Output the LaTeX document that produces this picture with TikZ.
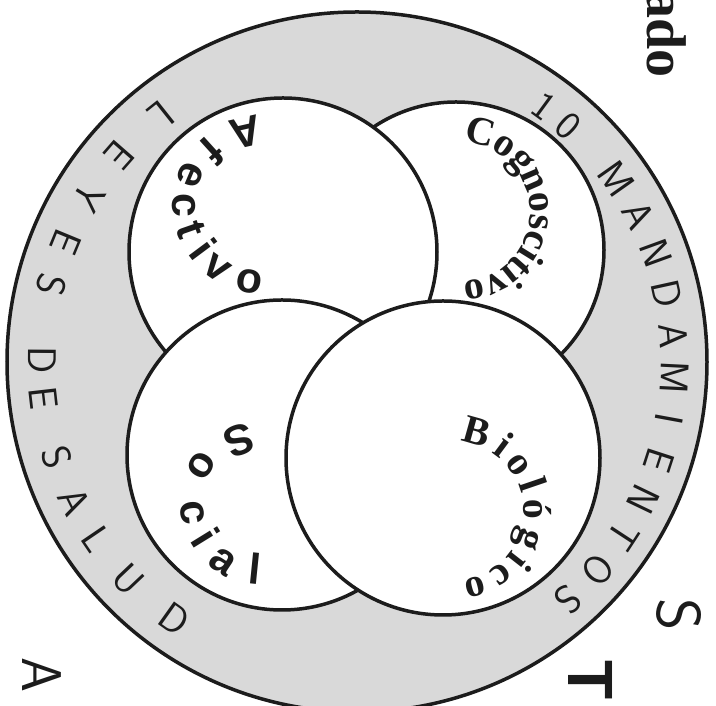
\documentclass[tikz,border=0pt]{standalone}
\usepackage{fontspec}
\newfontfamily\serifbold{Liberation Serif}
\newfontfamily\sansbold{Liberation Sans}
\definecolor{ink}{HTML}{1C1C1C}
\definecolor{stipple}{HTML}{D9D9D9}
\tikzset{
  ringdisc/.style={circle, draw=ink, fill=stipple, line width=3.5pt, inner sep=0pt},
  lobe/.style={circle, draw=ink, fill=white, line width=3.5pt, inner sep=0pt},
  ringletter/.style={font=\sffamily\fontsize{40}{40}\selectfont, text=ink, anchor=base, inner sep=0pt},
  serifletter/.style={font=\serifbold\bfseries\fontsize{40}{40}\selectfont, text=ink, anchor=base, inner sep=0pt},
  sansletter/.style={font=\sansbold\bfseries\fontsize{43}{43}\selectfont, text=ink, anchor=base, inner sep=0pt},
  edgeletter/.style={text=ink, inner sep=0pt, rotate=-90}
}

\begin{document}
\begin{tikzpicture}[x=1pt,y=1pt]
  \useasboundingbox (0,0) rectangle (716,706);
  \clip (0,0) rectangle (716,706);
  % ring and the four lobes
  \node[ringdisc, minimum size=700pt] (ring) at (357,344) {};
  \node[lobe, minimum size=296pt] (cogn) at (456,456) {};
  \node[lobe, minimum size=308pt] (afec) at (283,454) {};
  \node[lobe, minimum size=310pt] (soci) at (282,251) {};
  \node[lobe, minimum size=314pt] (biol) at (443,248) {};

  \coordinate (afecArc) at (262,501);
  \coordinate (cognArc) at (460,494);
  \coordinate (biolArc) at (455,195);
  \coordinate (sociArc) at (262,203);

  % lobe labels
  \foreach \ch/\a in {A/102.9, f/132.2, e/157.1, c/180.4, t/199.3, i/216.7, v/234.3, o/260.4}
    \path (afecArc) ++(\a:89) node[sansletter, rotate=\a+90] {\ch};
  \foreach \ch/\a in {C/75.3, o/56, g/40.2, n/23.5, o/6.8, s/-7.2, c/-20.4, i/-31.8, t/-41.5, i/-51.2, v/-63.5, o/-79.3}
    \path (cognArc) ++(\a:70) node[serifletter, rotate=\a-90] {\ch};
  \foreach \ch/\a in {B/74.4, i/53.4, o/36.1, l/18.8, ó/1.4, g/-20.8, i/-38.1, c/-54.2, o/-75.2}
    \path (biolArc) ++(\a:69) node[serifletter, rotate=\a-90] {\ch};
  \foreach \ch/\a in {S/110.3, o/148.5, c/188, i/211.7, a/236.3, l/264.2}
    \path (sociArc) ++(\a:82) node[sansletter, rotate=\a+90] {\ch};

  % ring lettering
  \foreach \ch/\a in {1/53.8, 0/48.2, M/35.2, A/27.6, N/20, D/12.4, A/4.8, M/-2.8, I/-10.4, E/-18, N/-25.6, T/-33.2, O/-40.8, S/-48.4}
    \path (ring.center) ++(\a:304) node[ringletter, rotate=\a-90] {\ch};
  \foreach \ch/\a in {L/128.5, E/138.9, Y/148.5, E/157.6, S/165.8, D/179.6, E/186.5, S/197.6, A/206.2, L/214.2, U/223.5, D/234.6}
    \path (ring.center) ++(\a:329) node[ringletter, rotate=\a+90] {\ch};

  % page text cut by the edges
  \node[edgeletter, font=\serifbold\bfseries\fontsize{56}{56}\selectfont, anchor=base east] (ado) at (647,628) {ado};
  \node[edgeletter, font=\sffamily\fontsize{62}{62}\selectfont, anchor=base] (bigS) at (657,91) {S};
  \node[edgeletter, font=\sansbold\bfseries\fontsize{64}{64}\selectfont, anchor=base west] (bigT) at (568,46) {T};
  \node[edgeletter, font=\sffamily\fontsize{56}{56}\selectfont, anchor=base] (bigA) at (22,31) {A};
\end{tikzpicture}
\end{document}
